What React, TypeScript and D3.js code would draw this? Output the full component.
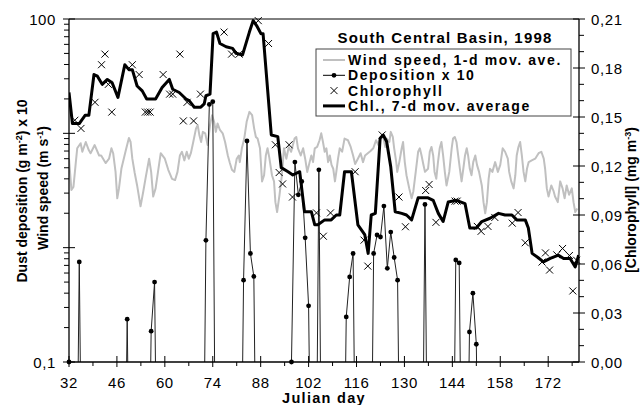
import React from 'react';
import * as d3 from 'd3';

// wind speed (m/s), 1-d moving average
const windDays = [
  32.0, 32.7, 33.3, 34.0, 34.4, 35.4, 35.9, 36.9, 37.8, 38.3, 39.5, 40.8, 41.4, 42.7, 43.7, 44.4, 44.9, 45.6, 46.1, 46.6,
  47.3, 48.6, 49.5, 50.0, 50.5, 51.2, 51.9, 52.9, 53.7, 54.4, 55.4, 56.0, 56.6, 57.3, 58.0, 58.8, 60.0, 61.0, 62.1, 63.0,
  63.7, 64.4, 65.0, 65.7, 66.4, 67.0, 67.6, 68.3, 69.1, 69.6, 70.1, 70.6, 71.1, 71.8, 72.5, 73.2, 73.8, 74.4, 74.9, 75.4,
  76.1, 76.9, 77.6, 78.4, 79.0, 79.6, 80.3, 81.0, 81.6, 81.9, 82.5, 83.2, 83.9, 84.7, 85.5, 86.1, 86.6, 87.1, 87.8, 88.4,
  89.0, 89.5, 90.0, 90.5, 91.3, 91.9, 92.3, 92.8, 93.5, 94.2, 94.8, 95.5, 96.2, 96.9, 97.9, 98.4, 98.9, 99.7, 100.4, 101.0,
  101.6, 102.3, 102.8, 103.3, 103.8, 104.5, 105.2, 105.7, 106.2, 106.7, 107.2, 107.7, 108.2, 108.7, 109.2, 109.7, 110.1, 110.6, 111.1, 111.8,
  112.5, 113.5, 114.3, 115.0, 115.6, 116.4, 117.2, 117.9, 118.5, 119.3, 120.1, 120.9, 121.7, 122.4, 123.1, 123.7, 124.4, 124.8, 125.6, 126.0,
  126.6, 127.0, 127.6, 127.9, 128.5, 129.2, 129.6, 130.1, 130.6, 131.4, 132.1, 132.6, 133.3, 134.0, 134.5, 135.0, 135.5, 136.0, 136.9, 137.4,
  137.9, 138.4, 138.8, 139.3, 139.8, 140.3, 140.8, 141.3, 141.8, 142.3, 143.1, 143.8, 144.2, 144.7, 145.2, 145.7, 146.2, 146.7, 147.2, 147.7,
  148.2, 148.6, 149.1, 149.6, 150.1, 150.7, 151.2, 151.8, 152.6, 153.1, 153.6, 154.1, 154.6, 155.0, 155.7, 156.5, 157.3, 158.0, 158.7, 159.4,
  160.2, 160.6, 161.2, 161.9, 162.4, 162.8, 163.3, 163.8, 164.3, 164.8, 165.3, 165.8, 166.3, 167.2, 168.2, 169.2, 170.0, 170.7, 171.1, 171.6,
  172.1, 172.9, 173.6, 174.0, 174.8, 175.5, 176.2, 176.8, 177.4, 178.1, 178.9, 179.4, 179.9, 180.5,
];
const windSpeed = [
  6.0, 3.2, 3.4, 5.6, 7.4, 8.2, 6.9, 8.4, 7.1, 6.7, 7.9, 6.4, 6.4, 5.5, 6.0, 7.4, 6.7, 4.6, 2.7, 3.3,
  4.9, 7.1, 9.1, 8.4, 6.0, 4.5, 3.5, 2.3, 3.1, 4.1, 6.0, 4.6, 2.8, 3.3, 4.6, 6.7, 6.0, 4.8, 4.0, 3.9,
  4.6, 6.4, 6.9, 5.8, 6.9, 6.0, 6.7, 8.4, 11.0, 11.8, 9.6, 8.4, 10.3, 10.0, 7.9, 11.8, 14.4, 12.6, 10.3, 12.2,
  10.7, 10.0, 8.4, 6.4, 5.5, 4.8, 4.6, 6.0, 6.4, 5.6, 7.4, 9.0, 12.6, 15.4, 14.4, 11.0, 9.3, 9.0, 7.4, 3.8,
  4.3, 6.4, 7.4, 6.2, 4.3, 3.8, 2.5, 2.05, 2.9, 4.3, 7.4, 6.0, 7.6, 6.9, 9.0, 9.3, 7.4, 6.4, 7.4, 6.0,
  4.6, 5.6, 6.4, 5.6, 7.4, 7.6, 8.7, 10.0, 8.4, 6.9, 7.4, 5.6, 6.4, 5.3, 4.9, 3.8, 4.6, 6.0, 7.4, 6.9,
  9.0, 8.7, 7.6, 6.4, 5.4, 6.0, 6.7, 5.6, 6.4, 6.7, 7.0, 7.4, 8.7, 7.9, 9.3, 9.6, 7.6, 9.0, 8.4, 10.3,
  9.3, 7.4, 5.6, 4.6, 5.6, 7.4, 8.4, 5.6, 4.3, 3.3, 2.7, 3.1, 4.6, 6.9, 7.4, 6.4, 5.4, 4.6, 4.9, 6.9,
  7.6, 6.4, 4.6, 4.0, 5.6, 7.4, 8.4, 6.4, 4.6, 3.5, 4.6, 7.4, 9.0, 9.3, 8.4, 6.4, 4.9, 3.8, 4.9, 6.4,
  7.4, 6.4, 4.9, 4.3, 5.6, 6.4, 5.3, 4.6, 3.5, 2.5, 2.0, 2.5, 4.0, 4.9, 4.6, 5.6, 4.6, 5.3, 7.4, 6.9,
  6.0, 4.6, 3.8, 3.3, 4.3, 6.4, 7.6, 8.4, 6.4, 4.6, 3.8, 4.9, 5.6, 5.8, 6.0, 6.7, 6.9, 6.0, 4.9, 3.3,
  2.8, 3.5, 3.1, 2.8, 2.5, 3.8, 3.3, 2.7, 3.5, 2.9, 3.3, 2.5, 2.05, 2.2,
];

// dust deposition x 10 (days not listed are zero, i.e. below the log axis)
const depDays = [32, 35, 49, 56, 57, 72, 73, 74, 83, 84, 85, 86, 97, 98, 99, 100, 101, 102, 105, 113, 114, 115, 121, 122, 123, 124, 125, 126, 127, 128, 136, 145, 146, 149, 150, 151];
const depValues = [0.1, 0.75, 0.237, 0.186, 0.5, 1.16, 17.9, 18.9, 0.52, 8.57, 0.89, 0.56, 0.1, 5.6, 2.9, 3.8, 1.22, 0.31, 4.8, 0.248, 0.555, 0.89, 0.89, 1.29, 1.24, 2.31, 0.66, 1.37, 0.82, 0.52, 2.39, 0.78, 0.735, 0.183, 0.4, 0.143];

// chlorophyll samples (mg m-3)
const chlDays = [
  33.7, 35.5, 39.6, 41.5, 42.5, 43.5, 44.5, 50.5, 52.5, 54.3, 55.0, 55.7, 59.5, 61.4, 62.3, 64.4, 65.4, 66.5, 68.4, 70.4,
  77.3, 79.5, 81.7, 87.3, 90.3, 92.3, 93.4, 94.4, 96.3, 97.3, 104.3, 106.3, 108.4, 115.6, 118.2, 119.3, 123.5, 128.4, 130.3, 136.2,
  137.2, 139.2, 144.8, 145.4, 151.3, 152.4, 154.4, 156.4, 161.5, 163.2, 165.3, 170.2, 171.2, 172.4, 174.5, 176.2, 178.2, 179.2, 180.3,
];
const chlValues = [
  0.148, 0.143, 0.159, 0.182, 0.1885, 0.170, 0.153, 0.182, 0.176, 0.153, 0.153, 0.153, 0.176, 0.164, 0.164, 0.1885, 0.1476, 0.159, 0.1476, 0.164,
  0.202, 0.1885, 0.1885, 0.209, 0.195, 0.133, 0.116, 0.109, 0.133, 0.101, 0.0913, 0.077, 0.0913, 0.1165, 0.0746, 0.0587, 0.139, 0.101, 0.0828, 0.105,
  0.1087, 0.0855, 0.0985, 0.0985, 0.083, 0.080, 0.083, 0.0885, 0.085, 0.0915, 0.073, 0.0612, 0.0668, 0.0563, 0.0656, 0.0695, 0.0652, 0.0435, 0.0623,
];

// chlorophyll, 7-day moving average
const avgDays = [
  32.0, 33.0, 35.0, 36.7, 37.8, 39.3, 40.3, 41.7, 43.2, 44.6, 46.3, 48.3, 49.5, 50.5, 51.9, 53.4, 54.7, 57.3, 59.2, 61.3,
  62.3, 64.2, 66.2, 67.1, 68.6, 70.5, 71.5, 72.0, 73.2, 74.1, 75.1, 76.1, 77.9, 79.8, 80.8, 82.7, 84.7, 85.8, 86.8, 88.1,
  88.7, 91.1, 93.0, 94.0, 96.0, 97.4, 99.4, 100.8, 102.8, 103.8, 104.7, 106.7, 108.6, 110.1, 111.1, 112.5, 114.5, 116.4, 118.4, 119.4,
  120.3, 121.5, 122.9, 123.8, 124.8, 126.0, 127.3, 129.2, 130.6, 132.1, 134.0, 136.9, 138.4, 139.9, 141.3, 142.8, 145.2, 147.7, 149.1, 151.0,
  152.6, 155.0, 157.5, 159.4, 161.4, 162.8, 165.3, 166.2, 167.3, 169.0, 170.6, 172.6, 175.0, 176.5, 178.4, 179.9, 180.9,
];
const avgValues = [
  0.165, 0.146, 0.146, 0.151, 0.151, 0.176, 0.175, 0.170, 0.173, 0.171, 0.162, 0.182, 0.179, 0.179, 0.169, 0.166, 0.161, 0.161, 0.168, 0.173,
  0.167, 0.165, 0.161, 0.160, 0.156, 0.156, 0.158, 0.163, 0.164, 0.201, 0.202, 0.195, 0.193, 0.192, 0.189, 0.188, 0.202, 0.209, 0.206, 0.201,
  0.201, 0.139, 0.138, 0.119, 0.1165, 0.1145, 0.1165, 0.092, 0.092, 0.084, 0.084, 0.087, 0.087, 0.090, 0.090, 0.1165, 0.1165, 0.084, 0.078, 0.0665,
  0.090, 0.091, 0.137, 0.139, 0.135, 0.1195, 0.092, 0.091, 0.090, 0.087, 0.1005, 0.1005, 0.099, 0.091, 0.086, 0.098, 0.099, 0.097, 0.082, 0.082,
  0.086, 0.088, 0.091, 0.090, 0.090, 0.087, 0.087, 0.082, 0.0665, 0.064, 0.0613, 0.0634, 0.0654, 0.0634, 0.0634, 0.0582, 0.0654,
];

const xTicks = [32, 46, 60, 74, 88, 102, 116, 130, 144, 158, 172];
const xMinorTicks = [39, 53, 67, 81, 95, 109, 123, 137, 151, 165, 179];
const leftLabelled = [0.1, 100];
const leftDecades = [0.1, 1, 10];
const rightSteps = d3.range(0, 22); // hundredths of mg m-3
const legendLabels = ['Wind speed, 1-d mov. ave.', 'Deposition x 10', 'Chlorophyll', 'Chl., 7-d mov. average'];
const title = 'South Central Basin, 1998';

const W = 642;
const H = 405;
const L = 69, R = 579, T = 19, B = 362;
const font = "'Liberation Sans', Arial, sans-serif";

const x = d3.scaleLinear().domain([32, 181]).range([L, R]);
const yLog = d3.scaleLog().domain([0.1, 100]).range([B, T]);
const yChl = d3.scaleLinear().domain([0, 0.21]).range([B, T]);

const comma = (v: number, n: number) => v.toFixed(n).replace('.', ',');

const App: React.FC = () => {
  const wind = windDays.map((d, i) => ({ d, v: windSpeed[i] }));
  const depMap = new Map(depDays.map((d, i) => [d, depValues[i]]));
  const dep = d3.range(32, 182).map(d => ({ d, v: depMap.get(d) ?? 0 }));
  const avg = avgDays.map((d, i) => ({ d, v: avgValues[i] }));

  const windLine = d3.line<{ d: number; v: number }>().x(p => x(p.d)).y(p => yLog(p.v));
  const depLine = d3.line<{ d: number; v: number }>().x(p => x(p.d)).y(p => yLog(Math.max(p.v, 0.001)));
  const avgLine = d3.line<{ d: number; v: number }>().x(p => x(p.d)).y(p => yChl(p.v));

  const cross = 'M-3.5,-3.5L3.5,3.5M-3.5,3.5L3.5,-3.5';

  const leftMinor: number[] = [];
  leftDecades.forEach(base => {
    for (let k = 2; k <= 9; k++) leftMinor.push(base * k);
  });

  const lx = 316, ly = 49;
  const rowY = (i: number) => 60 + i * 15.3;

  return (
    <svg width={W} height={H} style={{ position: 'absolute', left: 0, top: 0, background: '#fff' }} fontFamily={font}>
      <defs>
        <clipPath id="plot">
          <rect x={L} y={T} width={R - L} height={B - T} />
        </clipPath>
      </defs>

      <g clipPath="url(#plot)">
        <path d={windLine(wind) ?? ''} fill="none" stroke="#c0c0c0" strokeWidth={2} strokeLinejoin="round" />
        <path d={depLine(dep) ?? ''} fill="none" stroke="#222" strokeWidth={1} />
      </g>
      {dep.filter(p => p.v > 0).map(p => (
        <circle key={'dp' + p.d} cx={x(p.d)} cy={yLog(p.v)} r={2.4} fill="#000" />
      ))}
      {chlDays.map((d, i) => (
        <path key={'c' + i} d={cross} transform={`translate(${x(d)},${yChl(chlValues[i])})`} stroke="#000" strokeWidth={1} fill="none" />
      ))}
      <g clipPath="url(#plot)">
        <path d={avgLine(avg) ?? ''} fill="none" stroke="#000" strokeWidth={3} strokeLinejoin="round" />
      </g>

      {/* frame */}
      <line x1={L} x2={R} y1={T} y2={T} stroke="#000" strokeWidth={1} />
      <line x1={L} x2={R} y1={B} y2={B} stroke="#000" strokeWidth={1.3} />
      <line x1={L} x2={L} y1={T} y2={B} stroke="#000" strokeWidth={1.3} />
      <line x1={R} x2={R} y1={T} y2={B} stroke="#000" strokeWidth={1.3} />

      {/* x axis */}
      {xTicks.map(t => (
        <g key={'xt' + t}>
          <line x1={x(t)} x2={x(t)} y1={B - 6} y2={B + 5} stroke="#000" />
          <text x={x(t)} y={387.5} textAnchor="middle" fontSize={15} letterSpacing={0.6}>{t}</text>
        </g>
      ))}
      {xMinorTicks.map(t => (
        <line key={'xm' + t} x1={x(t)} x2={x(t)} y1={B} y2={B + 4} stroke="#000" />
      ))}
      <text x={(L + R) / 2} y={403} textAnchor="middle" fontSize={14.5} fontWeight="bold" letterSpacing={1.3}>Julian day</text>

      {/* left log axis */}
      {[0.1, 1, 10, 100].map(t => (
        <line key={'lt' + t} x1={L - 6} x2={L + 6} y1={yLog(t)} y2={yLog(t)} stroke="#000" />
      ))}
      {leftMinor.map(t => (
        <line key={'lm' + t} x1={L - 5} x2={L} y1={yLog(t)} y2={yLog(t)} stroke="#000" />
      ))}
      {leftLabelled.map(t => (
        <text key={'ll' + t} x={56} y={yLog(t) + 5.5} textAnchor="end" fontSize={15} letterSpacing={0.6}>
          {t < 1 ? comma(t, 1) : String(t)}
        </text>
      ))}
      <text transform={`translate(27,191) rotate(-90)`} textAnchor="middle" fontSize={14} fontWeight="bold">
        Dust deposition (g m<tspan dy={-5} fontSize={9}>-2</tspan><tspan dy={5}>) x 10</tspan>
      </text>
      <text transform={`translate(48,188) rotate(-90)`} textAnchor="middle" fontSize={14} fontWeight="bold">
        Wind speed (m s<tspan dy={-5} fontSize={9}>-1</tspan><tspan dy={5}>)</tspan>
      </text>

      {/* right chlorophyll axis */}
      {rightSteps.map(i => (
        i % 3 === 0 ? (
          <g key={'rt' + i}>
            <line x1={R - 6} x2={R + 6} y1={yChl(i / 100)} y2={yChl(i / 100)} stroke="#000" />
            <text x={591} y={yChl(i / 100) + 5.5} fontSize={15} letterSpacing={0.6}>{comma(i / 100, 2)}</text>
          </g>
        ) : (
          <line key={'rm' + i} x1={R} x2={R + 5} y1={yChl(i / 100)} y2={yChl(i / 100)} stroke="#000" />
        )
      ))}
      <text transform={`translate(636,200) rotate(-90)`} textAnchor="middle" fontSize={14} fontWeight="bold">
        [Chlorophyll] (mg m<tspan dy={-5} fontSize={9}>-3</tspan><tspan dy={5}>)</tspan>
      </text>

      {/* title and legend */}
      <text x={445} y={42.5} textAnchor="middle" fontSize={15} fontWeight="bold" letterSpacing={1.2}>{title}</text>
      <rect x={lx} y={ly} width={255} height={67} fill="#fff" stroke="#444" strokeWidth={1} />
      <line x1={323} x2={345} y1={rowY(0)} y2={rowY(0)} stroke="#c0c0c0" strokeWidth={2} />
      <line x1={323} x2={345} y1={rowY(1)} y2={rowY(1)} stroke="#000" strokeWidth={1} />
      <circle cx={334} cy={rowY(1)} r={2.4} fill="#000" />
      <path d={cross} transform={`translate(334,${rowY(2)})`} stroke="#000" strokeWidth={1} fill="none" />
      <line x1={323} x2={345} y1={rowY(3)} y2={rowY(3)} stroke="#000" strokeWidth={3} />
      {legendLabels.map((s, i) => (
        <text key={s} x={348} y={rowY(i) + 5} fontSize={14} fontWeight="bold" letterSpacing={1.6}>{s}</text>
      ))}
    </svg>
  );
};

export default App;
